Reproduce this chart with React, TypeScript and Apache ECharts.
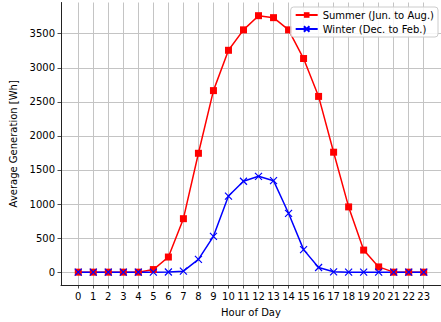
import React, { useEffect, useRef } from "react";
import * as echarts from "echarts";

const hours: number[] = Array.from({ length: 24 }, (_, i) => i);
const summerValues: number[] = [0, 0, 0, 0, 0, 38, 222, 785, 1745, 2665, 3257, 3557, 3765, 3736, 3557, 3136, 2580, 1761, 958, 324, 77, 0, 0, 0];
const winterValues: number[] = [0, 0, 0, 0, 0, 0, 2, 15, 187, 526, 1117, 1335, 1407, 1343, 864, 331, 68, 5, 0, 0, 0, 0, 0, 0];
const xTicks: number[] = hours;
const yTicks: number[] = [0, 500, 1000, 1500, 2000, 2500, 3000, 3500];

const FONT = "DejaVu Sans";
const X_SYMBOL = "path://M0,0L10,10M10,0L0,10";

export default function App() {
  const ref = useRef<HTMLDivElement>(null);
  useEffect(() => {
    if (!ref.current) return;
    const chart = echarts.init(ref.current, undefined, { renderer: "svg" });
    const axisCommon = {
      axisLine: { show: true, onZero: false, lineStyle: { color: "#222", width: 1 } },
      axisTick: { show: true, inside: false, length: 3.5, lineStyle: { color: "#222", width: 0.8 } },
      splitLine: { show: true, lineStyle: { color: "#c4c4c4", width: 1 } },
      nameTextStyle: { fontFamily: FONT, fontSize: 10, color: "#000" },
    };
    chart.setOption({
      animation: false,
      backgroundColor: "#fff",
      textStyle: { fontFamily: FONT },
      grid: { left: 61, right: -3, top: 2.5, bottom: 33.5, containLabel: false },
      legend: {
        right: 3,
        top: 7,
        orient: "vertical",
        itemWidth: 22,
        itemHeight: 7,
        itemGap: 4,
        padding: [3, 4, 3, 4],
        backgroundColor: "rgba(255,255,255,0.85)",
        borderColor: "#ccc",
        borderWidth: 1,
        borderRadius: 3,
        textStyle: { fontFamily: FONT, fontSize: 10, color: "#000" },
        data: ["Summer (Jun. to Aug.)", "Winter (Dec. to Feb.)"],
      },
      xAxis: {
        type: "value",
        min: -1.15,
        max: 24.15,
        name: "Hour of Day",
        nameLocation: "middle",
        nameGap: 22,
        ...axisCommon,
        axisTick: { ...axisCommon.axisTick, customValues: xTicks },
        axisLabel: { customValues: xTicks, fontFamily: FONT, fontSize: 10, color: "#000", margin: 6, formatter: (v: number) => String(v) },
      },
      yAxis: {
        type: "value",
        min: -188.5,
        max: 3958.5,
        name: "Average Generation [Wh]",
        nameLocation: "middle",
        nameGap: 33,
        ...axisCommon,
        axisTick: { ...axisCommon.axisTick, customValues: yTicks },
        axisLabel: { customValues: yTicks, fontFamily: FONT, fontSize: 10, color: "#000", margin: 6, formatter: (v: number) => String(v) },
      },
      series: [
        {
          name: "Summer (Jun. to Aug.)",
          type: "line",
          data: hours.map((h, i) => [h, summerValues[i]]),
          symbol: "rect",
          symbolSize: 7,
          showAllSymbol: true,
          lineStyle: { color: "#ff0000", width: 1.5 },
          itemStyle: { color: "#ff0000" },
        },
        {
          name: "Winter (Dec. to Feb.)",
          type: "line",
          data: hours.map((h, i) => [h, winterValues[i]]),
          symbol: X_SYMBOL,
          symbolSize: 7,
          showAllSymbol: true,
          lineStyle: { color: "#0000ff", width: 1.5 },
          itemStyle: { color: "#0000ff", borderColor: "#0000ff", borderWidth: 1.2 },
        },
      ],
    });
    return () => chart.dispose();
  }, []);
  return (
    <div style={{ position: "absolute", left: 0, top: 0, width: 441, height: 322, overflow: "hidden" }}>
      <div ref={ref} style={{ width: 441, height: 322 }} />
    </div>
  );
}
